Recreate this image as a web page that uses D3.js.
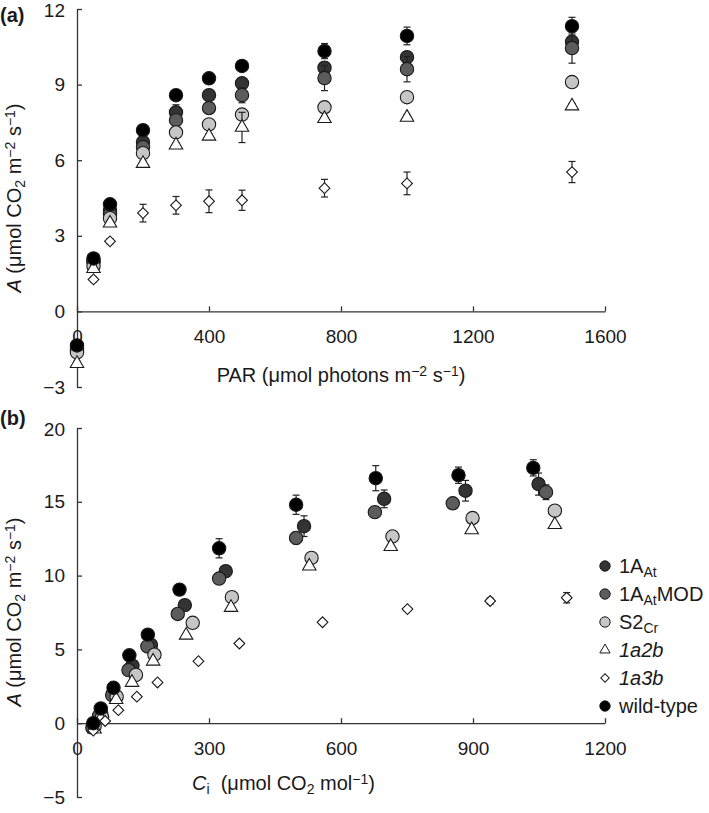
<!DOCTYPE html>
<html><head><meta charset="utf-8">
<script src="https://cdn.jsdelivr.net/npm/d3@7"></script>
<style>
html,body{margin:0;padding:0;background:#fff;}
svg{display:block;font-family:"Liberation Sans",Arial,sans-serif;}
</style></head>
<body>
<svg id="chart" width="709" height="813"></svg>
<script>
// ---------- Panel (a): light response ----------
const PAR = [0, 50, 100, 200, 300, 400, 500, 750, 1000, 1500];
const aWT      = [-1.35, 2.1, 4.25, 7.19, 8.58, 9.25, 9.74, 10.33, 10.93, 11.32];
const a1AAt    = [-1.45, 2.0, 4.0, 6.72, 7.9, 8.58, 9.05, 9.67, 10.09, 10.7];
const a1AAtMOD = [-1.55, 1.95, 3.85, 6.52, 7.59, 8.07, 8.58, 9.26, 9.61, 10.45];
const aS2Cr    = [-1.63, 1.8, 3.7, 6.28, 7.1, 7.42, 7.81, 8.1, 8.5, 9.1];
const a1a2b    = [-2.07, 1.7, 3.5, 5.87, 6.6, 6.95, 7.3, 7.65, 7.7, 8.15];
const a1a3b    = [-1.3, 1.27, 2.78, 3.9, 4.21, 4.37, 4.41, 4.89, 5.08, 5.53];
const eWT      = [0.15, 0.1, 0.1, 0.1, 0.15, 0.15, 0.2, 0.3, 0.35, 0.35];
const e1AAt    = [0.1, 0.1, 0.1, 0.15, 0.3, 0.2, 0.2, 0.2, 0.2, 0.2];
const e1AAtMOD = [0.1, 0.1, 0.1, 0.1, 0.2, 0.2, 0.3, 0.5, 0.5, 0.6];
const eS2Cr    = [0.1, 0.1, 0.1, 0.1, 0.1, 0.1, 0.15, 0.15, 0.15, 0.15];
const e1a2b    = [0.1, 0.1, 0.1, 0.1, 0.1, 0.1, 0.6, 0.1, 0.1, 0.1];
const e1a3b    = [0.1, 0.1, 0.1, 0.35, 0.35, 0.45, 0.4, 0.35, 0.45, 0.42];

// ---------- Panel (b): CO2 response ----------
const ciWT      = [37, 54, 83, 119, 161, 233, 323, 498, 679, 867, 1037];
const bWT       = [0, 1.0, 2.4, 4.6, 6.0, 9.05, 11.85, 14.8, 16.6, 16.8, 17.3];
const ebWT      = [0.1, 0.1, 0.1, 0.1, 0.1, 0.3, 0.65, 0.65, 0.85, 0.55, 0.55];
const ci1AAt    = [37, 55, 82, 126, 168, 245, 338, 516, 698, 883, 1049];
const b1AAt     = [-0.1, 0.7, 2.0, 3.9, 5.3, 8.0, 10.3, 13.35, 15.2, 15.75, 16.2];
const eb1AAt    = [0.1, 0.1, 0.1, 0.1, 0.1, 0.2, 0.35, 0.7, 0.6, 0.7, 0.75];
const ci1AAtMOD = [35, 50, 80, 117, 160, 229, 323, 498, 677, 854, 1066];
const b1AAtMOD  = [-0.3, 0.5, 1.9, 3.6, 5.2, 7.4, 9.8, 12.55, 14.3, 14.9, 15.65];
const eb1AAtMOD = [0.1, 0.1, 0.1, 0.1, 0.1, 0.1, 0.2, 0.4, 0.3, 0.3, 0.5];
const ciS2Cr    = [40, 57, 90, 134, 176, 263, 352, 533, 717, 899, 1086];
const bS2Cr     = [-0.2, 0.4, 1.8, 3.27, 4.64, 6.8, 8.54, 11.2, 12.65, 13.9, 14.4];
const ebS2Cr    = [0.1, 0.1, 0.1, 0.1, 0.1, 0.1, 0.1, 0.2, 0.2, 0.2, 0.3];
const ci1a2b    = [40, 54, 89, 125, 173, 248, 350, 528, 713, 897, 1086];
const b1a2b     = [-0.4, 0.3, 1.6, 2.76, 4.2, 5.96, 7.84, 10.64, 11.96, 13.1, 13.45];
const eb1a2b    = [0.1, 0.1, 0.1, 0.1, 0.1, 0.1, 0.1, 0.1, 0.1, 0.1, 0.1];
const ci1a3b    = [37, 64, 94, 136, 183, 276, 369, 558, 751, 939, 1113];
const b1a3b     = [-0.5, 0.15, 0.88, 1.8, 2.76, 4.2, 5.4, 6.84, 7.73, 8.28, 8.5];
const eb1a3b    = [0.1, 0.1, 0.1, 0.1, 0.1, 0.1, 0.1, 0.1, 0.1, 0.2, 0.35];

// tick labels
const xTicksA = [0, 400, 800, 1200, 1600];
const yTicksA = [-3, 0, 3, 6, 9, 12];
const xTicksB = [0, 300, 600, 900, 1200];
const yTicksB = [-5, 0, 5, 10, 15, 20];

// series styles (order = drawing order; wild-type on top)
const seriesStyle = [
  {key: "1AAt",    shape: "circle",   fill: "#333333"},
  {key: "1AAtMOD", shape: "circle",   fill: "#5c5c5c"},
  {key: "S2Cr",    shape: "circle",   fill: "#c6c6c6"},
  {key: "1a2b",    shape: "triangle", fill: "#ffffff"},
  {key: "1a3b",    shape: "diamond",  fill: "#ffffff"},
  {key: "WT",      shape: "circle",   fill: "#000000"}
];

const seriesA = {
  "1AAt": {x: PAR, y: a1AAt, e: e1AAt},
  "1AAtMOD": {x: PAR, y: a1AAtMOD, e: e1AAtMOD},
  "S2Cr": {x: PAR, y: aS2Cr, e: eS2Cr},
  "1a2b": {x: PAR, y: a1a2b, e: e1a2b},
  "1a3b": {x: PAR, y: a1a3b, e: e1a3b},
  "WT": {x: PAR, y: aWT, e: eWT}
};
const seriesB = {
  "1AAt": {x: ci1AAt, y: b1AAt, e: eb1AAt},
  "1AAtMOD": {x: ci1AAtMOD, y: b1AAtMOD, e: eb1AAtMOD},
  "S2Cr": {x: ciS2Cr, y: bS2Cr, e: ebS2Cr},
  "1a2b": {x: ci1a2b, y: b1a2b, e: eb1a2b},
  "1a3b": {x: ci1a3b, y: b1a3b, e: eb1a3b},
  "WT": {x: ciWT, y: bWT, e: ebWT}
};

const svg = d3.select("#chart");
const INK = "#1a1a1a";
const FS = 20;
const FS_TICK = 19;
const FS_SMALL = 14;

function symbolPath(shape, big) {
  if (shape === "circle") return d3.symbol(d3.symbolCircle, big ? 140 : 85)();
  if (shape === "triangle") return d3.symbol(d3.symbolTriangle, big ? 78 : 46)();
  return d3.symbol(d3.symbolSquare, big ? 58 : 36)();
}

function panel(xDom, yDom, yRange, xTicks, yTicks, series) {
  const x = d3.scaleLinear().domain(xDom).range([77, 605]);
  const y = d3.scaleLinear().domain(yDom).range(yRange);
  const g = svg.append("g");

  const yAxis = d3.axisLeft(y).tickValues(yTicks).tickSizeInner(-5).tickSizeOuter(0).tickPadding(12)
    .tickFormat(d3.format("d"));
  const gy = g.append("g").attr("transform", `translate(${x(0)},0)`).call(yAxis);
  const xAxis = d3.axisBottom(x).tickValues(xTicks).tickSizeInner(-5).tickSizeOuter(0).tickPadding(18)
    .tickFormat(d3.format("d"));
  const gx = g.append("g").attr("transform", `translate(0,${y(0)})`).call(xAxis);
  [gx, gy].forEach(a => {
    a.select(".domain").attr("stroke", "#333").attr("stroke-width", 1.3);
    a.selectAll(".tick line").attr("stroke", "#333").attr("stroke-width", 1.3);
    a.selectAll(".tick text").attr("fill", INK).attr("font-size", FS_TICK)
      .attr("font-family", "'Liberation Sans', Arial, sans-serif");
  });
  // keep the topmost y label inside the page
  gy.selectAll(".tick text").filter(d => d === yDom[1]).attr("dy", "0.42em");

  seriesStyle.forEach(s => {
    const d = series[s.key];
    const pts = d.x.map((xv, i) => ({x: xv, y: d.y[i], e: d.e[i]}));
    const sg = g.append("g");
    const eb = sg.selectAll("g.eb").data(pts.filter(p => p.e > 0)).join("g")
      .attr("stroke", "#222").attr("stroke-width", 1.2);
    eb.append("line").attr("x1", p => x(p.x)).attr("x2", p => x(p.x))
      .attr("y1", p => y(p.y - p.e)).attr("y2", p => y(p.y + p.e));
    eb.append("line").attr("x1", p => x(p.x) - 3.5).attr("x2", p => x(p.x) + 3.5)
      .attr("y1", p => y(p.y + p.e)).attr("y2", p => y(p.y + p.e));
    eb.append("line").attr("x1", p => x(p.x) - 3.5).attr("x2", p => x(p.x) + 3.5)
      .attr("y1", p => y(p.y - p.e)).attr("y2", p => y(p.y - p.e));
    sg.selectAll("path.m").data(pts).join("path")
      .attr("d", symbolPath(s.shape, true))
      .attr("transform", p => `translate(${x(p.x)},${y(p.y)})` + (s.shape === "diamond" ? " rotate(45)" : ""))
      .attr("fill", s.fill).attr("stroke", "#1a1a1a").attr("stroke-width", 1.1);
  });
  return {x, y, g};
}

const pa = panel([0, 1600], [-3, 12], [387, 9], xTicksA, yTicksA, seriesA);
const pb = panel([0, 1200], [-5, 20], [797, 428], xTicksB, yTicksB, seriesB);

// Helper for rich text
function rich(parent, parts) {
  parts.forEach(p => {
    const t = parent.append("tspan").text(p.t);
    if (p.i) t.attr("font-style", "italic");
    if (p.sub) t.attr("font-size", FS_SMALL).attr("baseline-shift", "-25%");
    if (p.sup) t.attr("font-size", FS_SMALL).attr("baseline-shift", "40%");
  });
}

const yTitleParts = [{t: "A", i: true}, {t: " (μmol CO"}, {t: "2", sub: true}, {t: " m"}, {t: "−2", sup: true},
  {t: " s"}, {t: "−1", sup: true}, {t: ")"}];

// Y titles
[[198, pa], [612, pb]].forEach(([cy]) => {
  const t = svg.append("text").attr("transform", `translate(21,${cy}) rotate(-90)`)
    .attr("text-anchor", "middle").attr("font-size", FS).attr("fill", INK);
  rich(t, yTitleParts);
});

// X titles
const xa = svg.append("text").attr("x", 341).attr("y", 382).attr("text-anchor", "middle")
  .attr("font-size", FS).attr("fill", INK);
rich(xa, [{t: "PAR (μmol photons m"}, {t: "−2", sup: true}, {t: " s"}, {t: "−1", sup: true}, {t: ")"}]);
const xb = svg.append("text").attr("x", 192).attr("y", 790).attr("text-anchor", "start")
  .attr("font-size", FS).attr("fill", INK);
rich(xb, [{t: "C", i: true}, {t: "i", sub: true}, {t: "\u00a0 (μmol CO"}, {t: "2", sub: true}, {t: " mol"}, {t: "−1", sup: true}, {t: ")"}]);

// Panel labels
svg.append("text").attr("x", 0).attr("y", 22).attr("font-size", FS).attr("font-weight", "bold").attr("fill", INK).text("(a)");
svg.append("text").attr("x", 0).attr("y", 425).attr("font-size", FS).attr("font-weight", "bold").attr("fill", INK).text("(b)");

// Legend
const legendItems = [
  {key: "1AAt", parts: [{t: "1A"}, {t: "At", sub: true}]},
  {key: "1AAtMOD", parts: [{t: "1A"}, {t: "At", sub: true}, {t: "MOD"}]},
  {key: "S2Cr", parts: [{t: "S2"}, {t: "Cr", sub: true}]},
  {key: "1a2b", parts: [{t: "1a2b", i: true}]},
  {key: "1a3b", parts: [{t: "1a3b", i: true}]},
  {key: "WT", parts: [{t: "wild-type"}]}
];
const lg = svg.append("g");
legendItems.forEach((it, i) => {
  const st = seriesStyle.find(s => s.key === it.key);
  const cy = 566 + 28 * i;
  lg.append("path").attr("d", symbolPath(st.shape, false))
    .attr("transform", `translate(605,${cy})` + (st.shape === "diamond" ? " rotate(45)" : ""))
    .attr("fill", st.fill).attr("stroke", "#1a1a1a").attr("stroke-width", 1);
  const t = lg.append("text").attr("x", 619).attr("y", cy + 7).attr("font-size", FS).attr("fill", INK);
  rich(t, it.parts);
});
</script>
</body></html>
